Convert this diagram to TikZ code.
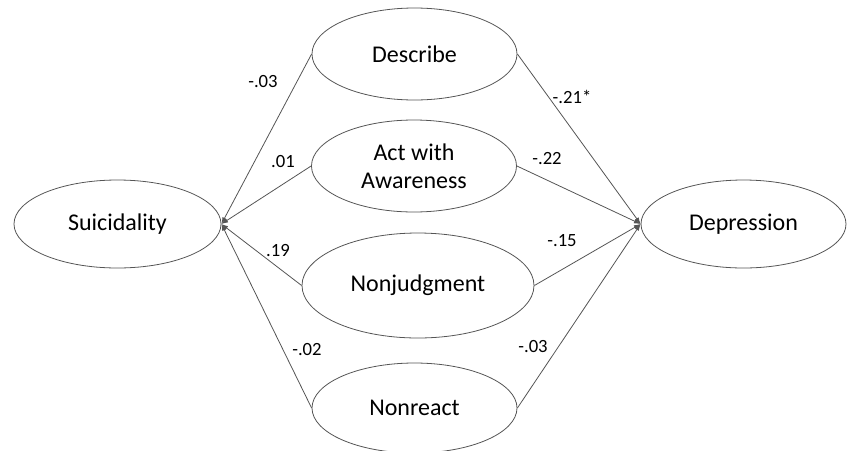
\documentclass[tikz,border=0pt]{standalone}
\usepackage{fontspec}
\setmainfont{Carlito}
\usetikzlibrary{shapes.geometric,arrows.meta}
\definecolor{linegray}{HTML}{555555}
\begin{document}
\begin{tikzpicture}[x=0.75pt,y=-0.75pt,
  latent/.style={ellipse,draw=linegray,line width=0.6pt,inner sep=0pt,
    minimum width=205*0.75pt,minimum height=90*0.75pt,
    font=\fontsize{18}{21}\selectfont,align=center},
  path/.style={draw=linegray,line width=0.6pt,-{Latex[length=5pt,width=3.5pt]}},
  coef/.style={font=\fontsize{14}{16}\selectfont}]
\useasboundingbox (0,0) rectangle (848,450);
\node[latent,minimum width=207*0.75pt,minimum height=88*0.75pt] (suic) at (117.5,224) {Suicidality};
\node[latent,minimum width=205*0.75pt,minimum height=88*0.75pt] (dep) at (743.5,224) {Depression};
\node[latent,minimum height=92*0.75pt] (desc) at (414.5,54) {Describe};
\node[latent,minimum height=92*0.75pt] (act) at (414,166) {Act with\\Awareness};
\node[latent,minimum width=232*0.75pt,minimum height=105*0.75pt] (nonj) at (418,285.5) {Nonjudgment};
\node[latent,minimum height=90*0.75pt] (nonr) at (414.5,408) {Nonreact};
\draw[path] (desc.west) -- (suic.east);
\draw[path] (act.west) -- (suic.east);
\draw[path] (nonj.west) -- (suic.east);
\draw[path] (nonr.west) -- (suic.east);
\draw[path] (desc.east) -- (dep.west);
\draw[path] (act.east) -- (dep.west);
\draw[path] (nonj.east) -- (dep.west);
\draw[path] (nonr.east) -- (dep.west);
\node[coef] (c1) at (263,82) {-.03};
\node[coef] (c2) at (283,162) {.01};
\node[coef] (c3) at (278,251) {.19};
\node[coef] (c4) at (307,350) {-.02};
\node[coef] (c5) at (572,97) {-.21*};
\node[coef] (c6) at (547,159) {-.22};
\node[coef] (c7) at (562,241) {-.15};
\node[coef] (c8) at (533,347) {-.03};
\end{tikzpicture}
\end{document}
